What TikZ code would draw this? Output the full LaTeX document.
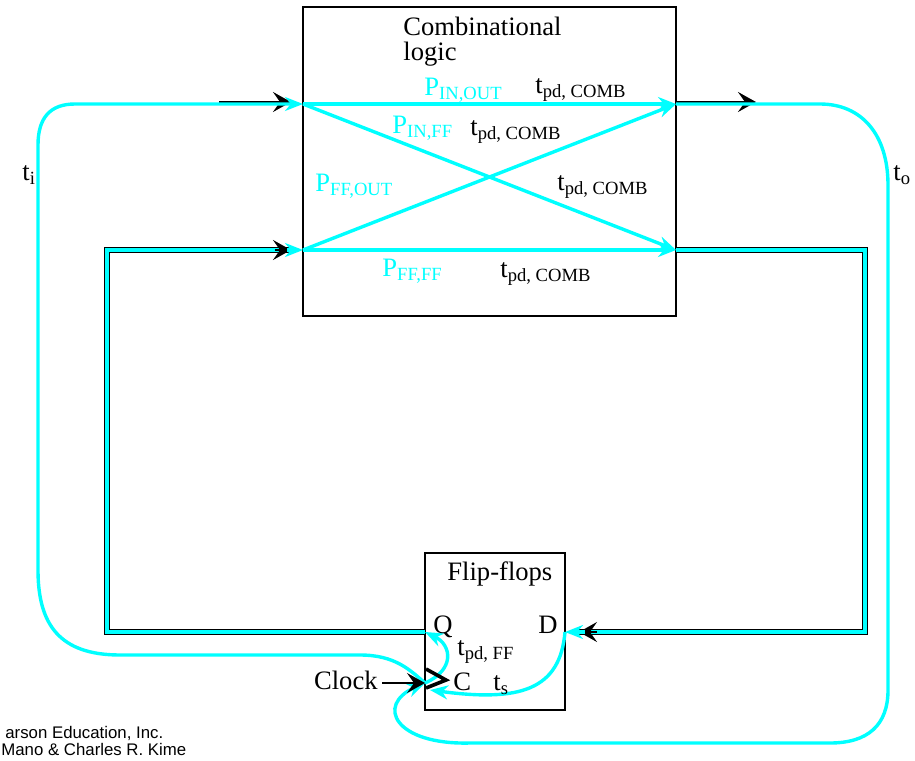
\documentclass[tikz,border=0pt]{standalone}
\usepackage{fontspec}
\setmainfont{Liberation Serif}
\newfontfamily\creditfont{Liberation Sans}
\usetikzlibrary{arrows.meta,positioning}
\definecolor{tcyan}{RGB}{0,255,255}
\newcommand{\lowsub}[1]{\raisebox{-0.35ex}{\fontsize{9.3}{10}\selectfont #1}}
\tikzset{
  cpath/.style={tcyan,line width=1.7pt},
  link/.style={draw=black,line width=0.6pt,double=tcyan,double distance=2pt},
  chead/.style={-{Stealth[length=9pt,width=7pt]}},
  bhead/.style={-{Stealth[length=9pt,width=10pt,inset=3.5pt]},line width=0.9pt},
  lbl/.style={inner sep=0pt,anchor=base west},
  blk/.style={draw,line width=1.3pt,inner sep=0pt}
}
\begin{document}
\begin{tikzpicture}[x=0.5pt,y=-0.5pt,font=\fontsize{13.3}{14}\selectfont]
\useasboundingbox (0,0) rectangle (915,760);
% blocks
\node[blk,minimum width=186.5pt,minimum height=154.5pt] (comb) at (489.5,161.5) {};
\node[blk,minimum width=70pt,minimum height=78.5pt] (ff) at (495,631.5) {};
\coordinate (in) at (303,104);
\coordinate (ffin) at (303,250);
\coordinate (out) at (676,104);
\coordinate (ffout) at (676,250);
\coordinate (Q) at (425,632);
\coordinate (D) at (565,632);
\coordinate (C) at (425,683);
% feedback loops
\draw[link] (Q) -- (107,632) -- (107,250) -- ([xshift=-6pt]ffin);
\draw[link] (ffout) -- (865,250) -- (865,632) -- ([xshift=6pt]D);
\draw[bhead] ([xshift=-42pt,yshift=1pt]in) -- ([xshift=-6pt,yshift=1pt]in);
\draw[bhead] ([xshift=-14pt]ffin) -- ([xshift=-6pt]ffin);
\draw[bhead] ([yshift=1pt]out) -- ([xshift=40pt,yshift=1pt]out);
\draw[bhead] ([xshift=16pt]D) -- ([xshift=7pt]D);
% timing paths
\draw[cpath,chead] (C) .. controls (410,670) and (395,655) .. (360,655) -- (120,655)
  .. controls (60,655) and (38,625) .. (38,570) -- (38,145)
  .. controls (38,118) and (50,104) .. (75,104) -- (in);
\draw[cpath,chead] (out) -- (820,104) .. controls (862,104) and (888,135) .. (888,185)
  -- (888,690) .. controls (888,725) and (868,743) .. (830,743) -- (470,743)
  .. controls (395,745) and (375,705) .. (C);
\draw[cpath,chead] (in) -- (out);
\draw[cpath,chead] (in) -- (ffout);
\draw[cpath,chead] (ffin) -- (out);
\draw[cpath,chead] (ffin) -- (ffout);
\draw[cpath,chead] ([xshift=-8pt]ffin) -- (ffin);
\draw[cpath,chead] ([xshift=10pt]D) -- (D);
\draw[cpath,chead] (C) .. controls (455,670) and (452,645) .. (Q);
\draw[cpath,chead] (D) .. controls (560,690) and (520,702) .. ([shift={(5,7)}]C);
% clock input
\draw[line width=1.8pt] ([shift={(1,-14)}]C) -- ([shift={(21,-3)}]C) -- ([shift={(1,5)}]C);
\node[anchor=base east,inner sep=2pt] (clk) at (382,689) {Clock};
\draw[bhead] (clk.east |- C) -- (C);
% labels
\node[lbl] (combtxt) at (403,35) {Combinational};
\node[lbl] (logictxt) at (403,61) {logic};
\node[lbl] (fftxt) at (447,580) {Flip-flops};
\node[lbl] (qtxt) at (433,633) {Q};
\node[lbl] (dtxt) at (538,633) {D};
\node[lbl] (ctxt) at (453,690) {C};
\node[lbl] (tpdff) at (457,655) {t\lowsub{pd, FF}};
\node[lbl] (tstxt) at (493,690) {t\lowsub{s}};
\node[lbl] (titxt) at (22,180) {t\lowsub{i}};
\node[lbl] (totxt) at (893,180) {t\lowsub{o}};
\node[lbl,tcyan] (pio) at (424,95) {P\lowsub{IN,OUT}};
\node[lbl] (tc1) at (535,93) {t\lowsub{pd, COMB}};
\node[lbl,tcyan] (pif) at (392,133) {P\lowsub{IN,FF}};
\node[lbl] (tc2) at (470,135) {t\lowsub{pd, COMB}};
\node[lbl,tcyan] (pfo) at (315,191) {P\lowsub{FF,OUT}};
\node[lbl] (tc3) at (557,190) {t\lowsub{pd, COMB}};
\node[lbl,tcyan] (pff) at (382,276) {P\lowsub{FF,FF}};
\node[lbl] (tc4) at (500,277) {t\lowsub{pd, COMB}};
\node[lbl,font=\creditfont\fontsize{8.4}{9}\selectfont] (cred1) at (5,738) {arson Education, Inc.};
\node[lbl,font=\creditfont\fontsize{8.4}{9}\selectfont] (cred2) at (1,755) {Mano \& Charles R. Kime};
\end{tikzpicture}
\end{document}
